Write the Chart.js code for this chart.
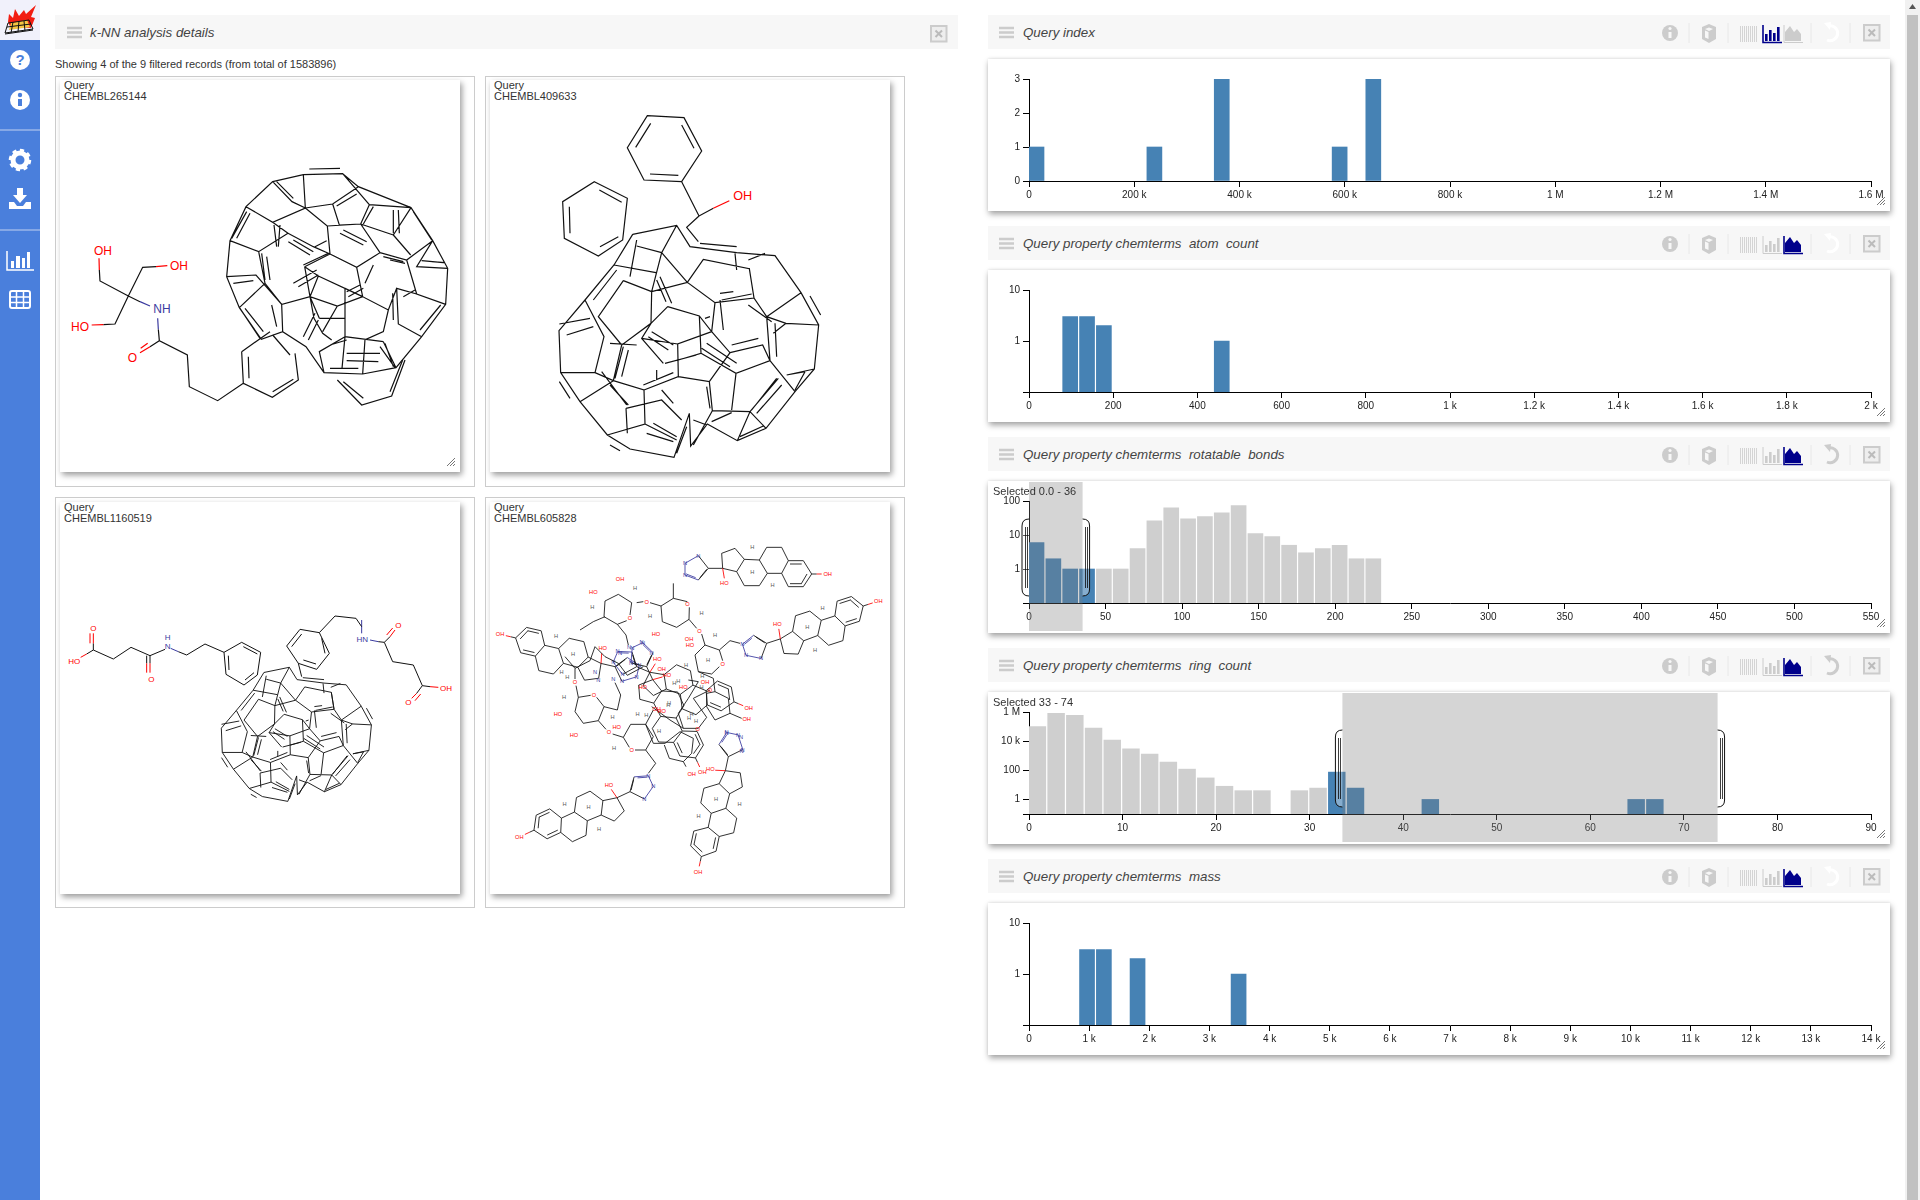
<!DOCTYPE html>
<html lang="en">
<head>
<meta charset="UTF-8" />
<title>k-NN analysis</title>
<script src="https://cdn.jsdelivr.net/npm/chart.js"></script>
<style>
  html, body { margin: 0; padding: 0; width: 1920px; height: 1200px; overflow: hidden; background: #fff; font-family: "Liberation Sans", Arial, sans-serif; color: #333; }
  .abs { position: absolute; }
  #sidebar { left: 0; top: 0; width: 40px; height: 1200px; background: #4a7fdc; }
  #logo { left: 0; top: 0; width: 40px; height: 40px; background: #f1f1fb; }
  .sep { left: 0; width: 40px; height: 2px; background: #86a8e6; }
  .head { background: #f7f7f7; height: 34px; }
  .title { font-style: italic; font-size: 13.33px; color: #444; white-space: pre; line-height: 34px; }
  .box { background: #fff; box-shadow: 1px 3px 6px rgba(0,0,0,.38), 0 -1px 2px rgba(0,0,0,.06); }
  .rec { border: 1px solid #ccc; box-sizing: border-box; width: 420px; height: 411px; }
  .paper { background: #fff; width: 400px; height: 392px; box-shadow: 2px 3px 6px rgba(0,0,0,.4); }
  .qlabel { font-size: 11px; line-height: 11px; color: #333; }
  .sel { font-size: 11px; color: #333; white-space: pre; }
  svg.mol { position: absolute; width: 430px; height: 420px; overflow: visible; }
  canvas { position: absolute; }
</style>
</head>
<body>
<div id="page"></div>
<script>
// histogram values
const indexBins = [0, 224000, 352000, 576000, 640000];
const indexCounts = [1, 1, 3, 1, 3];
const indexTicks = [0, 200000, 400000, 600000, 800000, 1000000, 1200000, 1400000, 1600000];
const indexTickLabels = ['0', '200 k', '400 k', '600 k', '800 k', '1 M', '1.2 M', '1.4 M', '1.6 M'];

const atomBins = [80, 120, 160, 440];
const atomCounts = [3, 3, 2, 1];
const atomTicks = [0, 200, 400, 600, 800, 1000, 1200, 1400, 1600, 1800, 2000];
const atomTickLabels = ['0', '200', '400', '600', '800', '1 k', '1.2 k', '1.4 k', '1.6 k', '1.8 k', '2 k'];

const rotBins = [0, 11, 22, 33, 44, 55, 66, 77, 88, 99, 110, 121, 132, 143, 154, 165, 176, 187, 198, 209, 220];
const rotCounts = [6, 2, 1, 1, 1, 1, 4, 26, 63, 30, 35, 45, 73, 11, 9, 5, 3, 4, 5, 2, 2];
const rotTicks = [0, 50, 100, 150, 200, 250, 300, 350, 400, 450, 500, 550];
const rotSelection = [0, 35];

const ringBins = [0, 2, 4, 6, 8, 10, 12, 14, 16, 18, 20, 22, 24, 28, 30, 32, 34, 42, 64, 66];
const ringCounts = [100000, 800000, 600000, 80000, 12000, 3000, 1300, 370, 120, 30, 8, 4, 4, 4, 6, 75, 6, 1, 1, 1];
const ringTicks = [0, 10, 20, 30, 40, 50, 60, 70, 80, 90];
const ringSelection = [33.5, 73.6];

const massBins = [840, 1120, 1680, 3360];
const massCounts = [3, 3, 2, 1];
const massTicks = [0, 1000, 2000, 3000, 4000, 5000, 6000, 7000, 8000, 9000, 10000, 11000, 12000, 13000, 14000];
const massTickLabels = ['0', '1 k', '2 k', '3 k', '4 k', '5 k', '6 k', '7 k', '8 k', '9 k', '10 k', '11 k', '12 k', '13 k', '14 k'];

const panelTitles = ['Query index', 'Query property chemterms  atom  count', 'Query property chemterms  rotatable  bonds', 'Query property chemterms  ring  count', 'Query property chemterms  mass'];
const recordIds = ['CHEMBL265144', 'CHEMBL409633', 'CHEMBL1160519', 'CHEMBL605828'];

const page = document.getElementById('page');
function add(html) { page.insertAdjacentHTML('beforeend', html); }
function place(cls, x, y, w, h, inner) {
  add(`<div class="abs ${cls}" style="left:${x}px;top:${y}px;${w ? 'width:' + w + 'px;' : ''}${h ? 'height:' + h + 'px;' : ''}">${inner || ''}</div>`);
}

// --- side bar
const WHITE = '#fff';
add(`<div class="abs" id="sidebar"></div><div class="abs" id="logo"></div><div class="abs sep" style="top:129px"></div><div class="abs sep" style="top:229px"></div>`);
add(`<svg class="abs" style="left:0;top:0" width="40" height="240" viewBox="0 0 40 240">
  <polygon points="8,22 9,14 13,18 15,9 19,16 24,10 26,14 36,5 31,17 35,18 31,28 10,26" fill="#f21d12"/>
  <polygon points="11,23 27,20 30,27 9,30" fill="#f5c542"/>
  <path d="M8,23 L29,20 M7,27 L31,24 M5,33 L33,29 M8,23 L5,33 M13,22 L11,33 M19,21 L18,32 M24,21 L25,31 M29,20 L33,29 M5,34 L33,30" stroke="#111" stroke-width="1" fill="none"/>
  <circle cx="20" cy="60" r="10" fill="${WHITE}"/><text x="20" y="65" font-size="15" font-weight="bold" text-anchor="middle" fill="#4a7fdc">?</text>
  <circle cx="20" cy="100" r="10" fill="${WHITE}"/><rect x="18" y="99" width="4" height="7" fill="#4a7fdc"/><circle cx="20" cy="95" r="2.2" fill="#4a7fdc"/>
  <circle cx="20" cy="160" r="7" fill="none" stroke="${WHITE}" stroke-width="5"/>
  <circle cx="20" cy="160" r="9.5" fill="none" stroke="${WHITE}" stroke-width="3.5" stroke-dasharray="4 3.4"/>
  <path d="M17,188 h6 v7 h4 l-7,8 l-7,-8 h4 z" fill="${WHITE}"/><path d="M9,202 h5 l3,4 h6 l3,-4 h5 v7 h-22 z" fill="${WHITE}"/>
</svg>`);
add(`<svg class="abs" style="left:0;top:240px" width="40" height="80" viewBox="0 240 40 80">
  <path d="M7,251 V270 H34" stroke="${WHITE}" stroke-width="1.5" fill="none"/>
  <rect x="11" y="261" width="3" height="7" fill="${WHITE}"/><rect x="16" y="256" width="4" height="12" fill="${WHITE}"/><rect x="22" y="258" width="3" height="10" fill="${WHITE}"/><rect x="27" y="252" width="3" height="16" fill="${WHITE}"/>
  <rect x="10" y="291" width="20" height="17" rx="2" fill="none" stroke="${WHITE}" stroke-width="2"/>
  <path d="M10,297 H30 M10,302.500 H30 M16.500,291 V308 M23.500,291 V308" stroke="${WHITE}" stroke-width="1.5"/>
</svg>`);

// --- header icons
function menuIcon(x, y) {
  return `<svg class="abs" style="left:${x}px;top:${y}px" width="16" height="14"><path d="M0,2 H15 M0,6.500 H15 M0,11 H15" stroke="#ccc" stroke-width="2.4"/></svg>`;
}
function closeIcon(x, y) {
  return `<svg class="abs" style="left:${x}px;top:${y}px" width="18" height="18"><rect x="1" y="1" width="15.500" height="15.500" fill="#eee" stroke="#ccc" stroke-width="2"/><path d="M5.500,5.500 L12,12 M12,5.500 L5.500,12" stroke="#bbb" stroke-width="2"/></svg>`;
}
function toolIcons(y, active, undoOn) {
  const on = '#00008b', off = '#ccc';
  const bc = active === 0 ? on : off, rc = active === 1 ? on : off;
  const sep = x => `<path d="M${x},8 V28" stroke="#e8e8e8"/>`;
  let bars = '';
  for (const [bx, bh] of [[3, 7], [7, 11], [11, 8], [15, 14]]) bars += `<rect x="${bx}" y="${26 - bh}" width="2.600" height="${bh}" fill="${bc}"/>`;
  let stripes = '';
  for (let i = 0; i < 9; i++) stripes += `<rect x="${i * 2}" y="11" width="1" height="16" fill="#d4d4d4"/>`;
  return `<svg class="abs" style="left:1655px;top:${y}px" width="225" height="34">
    <g><circle cx="15" cy="18" r="8" fill="#ccc"/><rect x="13.500" y="17" width="3" height="6" fill="#f7f7f7"/><circle cx="15" cy="13.500" r="1.600" fill="#f7f7f7"/></g>
    ${sep(34)}
    <g><path d="M47,12 L54,9 L61,12 V24 L54,28 L47,24 Z" fill="#ccc"/><path d="M50,14 L54,12.500 L58,14 L54,16 Z M50,15.500 L53.500,17 V24 L50,22.500 Z" fill="#f7f7f7"/></g>
    ${sep(73)}
    <g transform="translate(85,0)">${stripes}</g>
    <g transform="translate(107,0)">${bars}<path d="M1,10 V27.500 H20" fill="none" stroke="${bc}" stroke-width="${active === 0 ? 1.6 : 1}"/></g>
    <g transform="translate(128,0)"><path d="M2,26 L2,17 L7,11 L11,17 L14,14 L18,19 V26 Z" fill="${rc}"/><path d="M1,10 V27.500 H20" fill="none" stroke="${rc}" stroke-width="${active === 1 ? 1.6 : 1}"/></g>
    ${sep(156)}
    <path d="M173,11 A7.500,7.500 0 1,1 172,25" fill="none" stroke="${undoOn ? '#ccc' : '#fff'}" stroke-width="3"/><path d="M169,8 L176,7 L175,15 Z" fill="${undoOn ? '#ccc' : '#fff'}"/>
    ${sep(195)}
  </svg>` + closeIcon(1863, y + 9);
}

// --- left column
place('head', 55, 15, 903, 34);
add(menuIcon(67, 26));
place('title', 90, 16, 0, 34, 'k-NN analysis details');
add(closeIcon(930, 25));
place('', 55, 58, 600, 12, '<span style="position:relative;top:-4px;font-size:11px;color:#333">Showing 4 of the 9 filtered records (from total of 1583896)</span>');
[[55, 75.500], [485, 75.500], [55, 497], [485, 497]].forEach(([rx, ry], i) => {
  place('rec', rx, ry, 0, 0);
  place('paper', rx + 5, ry + 4.500, 0, 0);
  place('qlabel', rx + 9, ry + 4.500, 0, 0, 'Query<br>' + recordIds[i]);
});
const hatch = (x, y) => `<svg class="abs" style="left:${x}px;top:${y}px" width="9" height="9"><path d="M0,8 L8,0 M3,8 L8,3 M6,8 L8,6" stroke="#777"/></svg>`;
add(hatch(447, 458));

// --- molecule drawings (not data, just the pictures shown beside the charts)
const RED = '#f00', BLUE = '#3b3ba0', HGREY = '#555';
const cageA = `M668,335 L760,314 L878,311 L958,404 L1083,413 L1148,512 L1193,595 L1187,703 L1115,800 L1038,893 L938,912 L822,908 L768,830 L698,785 L634,808 L568,713 L530,620 L540,512 L588,410 Z
 M878,311 L925,350 L1083,413 M588,410 L668,457 L766,414 L760,314 M766,414 L848,402 L925,350 M668,335 L726,395 L766,414 M848,402 L868,465 L932,462 L958,404 M832,468 L932,462
 M766,414 L832,468 L840,552 L764,590 M668,457 L714,490 L626,545 L540,512 M626,545 L645,640 L695,703 M714,490 L790,530 L840,552 L920,592 L990,548 L932,462
 M990,548 L1070,570 L1148,512 M1030,495 L1083,413 M1030,495 L1082,555 M932,462 L1030,495 M1070,570 L1100,672 L1187,703 M1100,672 L1040,655 L1045,762 L1115,800 M1148,512 L1100,590 L1193,595
 M920,592 L938,680 L1015,720 L1040,655 M938,680 L862,708 L780,680 L695,703 L698,785 M645,640 L568,713 M530,620 L618,615 L695,703 M764,590 L805,618 L885,655 L885,745 L808,745 M805,618 L780,680 L808,745
 M764,590 L780,680 L792,745 L818,790 L845,810 M862,708 L818,785 M885,655 L938,680 M885,745 L885,800 L948,808 L1000,785 L1015,720 M885,800 L808,845 L822,908 M1000,815 L948,808 M1000,815 L1038,893 M945,808 L938,912 M885,800 L876,895
 M680,335 L730,385 M860,408 L920,372 M940,462 L970,410 M1030,420 L1030,490 M1045,420 L1048,490 M1090,425 L1145,510 M1145,575 L1185,578 M1115,572 L1180,578 M672,465 L680,530 M690,465 L685,530 M880,480 L950,515 M870,490 L940,525
 M795,530 L830,512 M730,510 L790,545 M715,515 L780,555 M760,585 L835,550 M635,550 L645,630 M650,560 L660,630 M545,505 L590,425 M560,505 L600,430 M550,640 L610,632 M1020,570 L1065,580 M1000,560 L1060,575
 M1110,780 L1172,705 M570,715 L630,805 M585,715 L640,785 M665,705 L680,770 M1028,670 L1030,750 M840,825 L890,810 M840,895 L925,895 M890,850 L990,850 M890,872 L985,875 M990,830 L1035,893 M1005,820 L1030,890
 M730,640 L800,600 M745,650 L805,615 M890,665 L930,645 M895,680 L940,655 M760,800 L795,730 M775,810 L805,750 M945,640 L970,585 M1060,680 L1095,660`;
const tailA = `M862,930 L935,1005 L1025,978 L1065,870 M880,935 L940,985 M1020,965 L1058,870
 M575,845 L660,785 M575,845 L580,940 L667,982 L745,930 L735,850 M595,860 L597,925 M668,965 L730,928 M668,795 L720,855 M580,940 L503,992 L418,950 L412,855 L328,812 L300,830
 M325,778 L328,812 M235,678 L270,695 M235,678 L150,633 L148,600 M235,678 L278,592 L318,590 M235,678 L195,762 L160,764`;
const tailARed = `M300,830 L270,848 M293,820 L272,835 M148,600 L147,565 M318,590 L352,587 M160,764 L125,765`;
const tailABlue = `M270,695 L300,708 M323,745 L325,778`;

const cageB = `M458,493 L590,466 L630,530 L770,548 L885,557 L963,668 L1016,765 L1003,897 L945,965 L858,1075 L772,1112 L682,1062 L632,1128 L628,1030 L582,1162 L450,1137 L382,1095 L300,995 L242,908 L237,782 L315,690 L402,585 L458,493
 M590,466 L545,548 L515,665 L622,637 L705,698 L822,684 L808,596 L670,568 L622,637 M545,548 L470,528 M545,548 L622,637 M402,585 L528,608 M430,632 L515,665 M430,632 L355,740 L425,825 M315,690 L372,800 L345,908 L242,908
 M515,665 L513,760 L425,825 L400,932 L345,908 M513,760 L485,805 L550,880 M485,805 L593,822 M563,710 L513,760 M563,710 L658,738 L695,785 L593,822 L595,920 L492,960 M658,738 L663,850 L595,870 M695,785 L750,848 L688,935 L595,920
 M705,698 L695,785 M750,848 L848,825 L870,872 L768,910 L663,850 M808,596 L822,684 L860,740 L918,760 L1016,765 M860,740 L963,668 M870,872 L860,740 M870,872 L945,965 M918,760 L880,790 M768,910 L755,1020 M688,935 L697,1022 L810,1025 L772,1112 M810,1025 L858,1075 M810,1025 L895,925 M1003,897 L920,915
 M400,932 L300,995 M400,932 L492,960 L495,1062 L382,1095 M438,1015 L545,990 L605,1050 M438,1015 L442,1090 M495,1062 L590,1110 M697,1022 L640,1125
 M990,678 L1022,735 M260,795 L340,770 M238,762 L330,745 M238,935 L270,985 M390,1125 L420,1142 M470,510 L450,620 M340,690 L410,600 M540,620 L575,700 M530,630 L558,695 M515,785 L580,825 M505,800 L565,840 M405,925 L430,830 M425,920 L445,840 M365,905 L440,1005 M390,945 L445,1005 M490,945 L580,908 M555,880 L650,855
 M680,820 L770,880 M665,835 L750,890 M755,825 L835,805 M805,705 L875,755 M720,690 L730,780 M725,690 L815,672 M885,760 L890,860 M815,1020 L890,925 M830,1030 L905,945 M920,915 L975,905 M945,960 L975,905 M520,1060 L590,1100 M500,1090 L580,1115 M680,950 L690,1015 M695,1055 L755,1028 M640,1050 L680,1065 M780,1100 L850,1068 M805,570 L855,550 M660,520 L770,530
 M620,1070 L590,1150 M580,1000 L545,960 M530,900 L530,930 M390,820 L470,825 M765,550 L770,600 M720,670 L760,665 M675,745 L690,740`;
const arcB = `M502,137 L612,143 L665,243 L605,335 L492,330 L442,233 Z M467,232 L512,160 M605,165 L642,235 M510,312 L595,316 M605,335 L657,438 L700,415 M657,438 L620,472 L655,515
 M343,335 L442,385 L428,510 L355,558 L253,505 L248,395 Z M358,360 L425,397 M270,490 L268,410 M360,530 L415,500`;

function polyPath(points) { return 'M' + points.map(p => p[0].toFixed(1) + ',' + p[1].toFixed(1)).join(' L'); }
const armLines = [
  [[240, -23], [285, -23], [310, 17], [285, 55], [240, 55], [220, 15], [240, -23]],
  [[240, -23], [220, -63], [175, -63], [153, -25], [177, 15], [220, 15]],
  [[153, -25], [108, -27], [85, 10], [108, 52], [153, 52], [177, 15]],
  [[108, -27], [80, -60], [40, -45], [43, 0], [85, 10]],
  [[43, 0], [0, 0], [-30, 35]], [[-30, -38], [0, 0]],
  [[245, -13], [280, -13]], [[296, 17], [279, 46]], [[245, 46], [280, 46]],
  [[310, 17], [325, 17]], [[-25, 28], [-5, 3]]
];
const armBlue = [[[-30, 35], [-70, 20], [-70, -15], [-30, -38]], [[-38, 28], [-64, 18]]];
const armRed = [[[325, 17], [340, 17]], [[43, 0], [48, 30]]];
const armLabels = [['OH', 358, 17, RED], ['HO', 48, 45, RED], ['H', 132, -63, HGREY], ['H', 132, 10, HGREY], ['H', 193, 50, HGREY], ['N', -70, 20, BLUE], ['N', -70, -15, BLUE], ['N', -30, -38, BLUE]];
// anchor x, anchor y, rotation, mirrored
const armPlacement = [[685, 235, 0, false], [860, 460, -18, true], [450, 905, 155, false], [745, 800, 102, false], [405, 530, 193, false], [470, 530, 23, true], [500, 530, 65, true]];

function armMarkup(ax, ay, deg, flip) {
  const c = Math.cos(deg * Math.PI / 180), s = Math.sin(deg * Math.PI / 180);
  const tf = ([x, y]) => { const yy = flip ? -y : y; return [ax + x * c - yy * s, ay + x * s + yy * c]; };
  const group = (lines, col) => `<path d="${lines.map(l => polyPath(l.map(tf))).join(' ')}" stroke="${col}"/>`;
  let out = group(armLines, '#111') + group(armBlue, BLUE) + group(armRed, RED);
  armLabels.forEach(([t, x, y, col]) => { const p = tf([x, y]); out += `<text x="${p[0].toFixed(0)}" y="${(p[1] + 6).toFixed(0)}" fill="${col}" stroke="none" text-anchor="middle">${t}</text>`; });
  return out;
}
const sugars = `M375,333 L415,313 L455,338 L450,375 M440,392 L412,403 L372,380 L375,333 M580,325 L622,335 M628,352 L627,388 L590,412 L547,395 L543,348 L580,325 M470,338 L490,335 M510,338 L543,348 M580,280 L580,325
 M675,465 L718,480 L728,512 M718,530 L695,552 L655,545 L645,495 L675,465 M627,388 L650,415 M665,432 L675,465 M718,480 L750,452 L780,460 M295,622 L332,616 M350,622 L372,650 L355,692 L310,700 L285,665 L295,622 M285,535 L285,567 M288,587 L295,622 M372,650 L412,660 L422,615 L405,578
 M430,742 L448,772 M465,780 L497,780 L520,740 L497,703 L452,703 L430,742 M355,692 L378,718 M398,732 L430,742 M497,780 L527,820 L505,850 M285,535 L330,512 L345,470 L375,500 L415,520 L442,556 L490,530 M412,403 L438,435 L445,465 M375,380 L340,395 L300,420 M255,500 L285,535
 M610,715 L655,715 L680,682 L640,625 L690,600 M570,690 L610,715 L595,670 L625,625 L655,575 L625,570 M520,660 L497,703 M515,650 L570,690 M497,703 L520,760 L555,760 L600,725 L640,745 L635,790 L610,815 L568,805 L553,765 M655,545 L700,565 L705,605 L745,625 L750,670 L705,690 L680,650 L680,610 L705,605 M610,815 L618,830 M750,670 L785,685`;
const sugarLabels = [['OH', 420, 268, RED], ['HO', 340, 306, RED], ['H', 465, 295, HGREY], ['O', 450, 385, RED], ['H', 337, 352, HGREY], ['O', 500, 335, RED], ['O', 622, 342, RED], ['HO', 528, 432, RED], ['H', 510, 378, HGREY], ['OH', 627, 447, RED], ['H', 665, 370, HGREY], ['O', 658, 423, RED], ['H', 705, 435, HGREY], ['O', 728, 522, RED], ['HO', 630, 465, RED], ['OH', 675, 577, RED], ['H', 252, 622, HGREY], ['O', 342, 615, RED], ['HO', 234, 672, RED], ['HO', 282, 735, RED], ['H', 398, 682, HGREY], ['O', 285, 577, RED], ['H', 245, 546, HGREY], ['O', 387, 725, RED], ['HO', 410, 711, RED], ['O', 455, 780, RED], ['H', 402, 775, HGREY], ['OH', 635, 852, RED], ['OH', 800, 687, RED], ['OH', 545, 537, RED], ['HO', 488, 592, RED], ['HO', 610, 592, RED], ['OH', 530, 658, RED], ['HO', 545, 662, RED], ['O', 653, 717, RED], ['O', 690, 600, RED], ['N', 447, 470, BLUE], ['N', 485, 456, BLUE], ['N', 515, 488, BLUE], ['N', 420, 488, BLUE], ['N', 355, 570, BLUE], ['N', 400, 568, BLUE], ['N', 345, 545, BLUE], ['N', 740, 730, BLUE], ['N', 783, 740, BLUE], ['N', 785, 783, BLUE], ['H', 618, 525, HGREY], ['H', 473, 672, HGREY], ['H', 583, 580, HGREY], ['H', 665, 592, HGREY], ['H', 635, 672, HGREY], ['H', 537, 722, HGREY], ['H', 648, 693, HGREY], ['H', 684, 510, HGREY]];

function textMark(t, x, y, col) { return `<text x="${x}" y="${y}" fill="${col}" stroke="none" text-anchor="middle" dominant-baseline="central">${t}</text>`; }
function molSvg(x, y, inner, fontSize, width) {
  add(`<svg class="mol" style="left:${x}px;top:${y}px" viewBox="0 0 1290 1260"><g fill="none" stroke="#111" stroke-width="${width}" font-family="Liberation Sans, Arial, sans-serif" font-size="${fontSize}">${inner}</g></svg>`);
}
molSvg(50, 70, `<path d="${cageA}"/><path d="M778,297 L870,295"/><path d="${tailA}"/><path d="${tailARed}" stroke="${RED}"/><path d="${tailABlue}" stroke="${BLUE}"/>`
  + textMark('OH', 159, 542, RED) + textMark('OH', 387, 587, RED) + textMark('NH', 336, 718, BLUE) + textMark('HO', 90, 770, RED) + textMark('O', 247, 865, RED), 36, 3.6);
molSvg(480, 70, `<path d="${cageB}"/><path d="${arcB}"/><path d="M700,415 L748,392" stroke="${RED}"/>` + textMark('OH', 788, 378, RED), 38, 3.6);
molSvg(50, 490, `<g transform="translate(377,262.500) scale(.578)" stroke-width="4.800"><path d="${cageB}"/></g>
  <path d="M522,487 L575,457 L632,487 L622,555 L582,585 L528,553 Z M535,497 L537,540 M580,470 L622,492 M585,570 L612,548 M522,487 L465,462 L410,495 L385,485 M345,478 L300,497 L243,472 L190,507 L130,480 L130,460 M300,497 L300,520 M290,497 L290,520 M130,480 L110,492"/>
  <path d="M385,485 L362,475 M935,390 L935,430 M960,450 L985,455" stroke="${BLUE}"/>
  <path d="M130,460 L130,430 M120,460 L120,430 M300,520 L300,548 M290,520 L290,548 M110,492 L92,502 M1140,590 L1165,592 M1100,610 L1085,625 M1112,612 L1095,632 M1020,440 L1035,420 M1010,435 L1028,414" stroke="${RED}"/>
  <path d="M750,418 L808,428 L838,490 L800,538 L745,520 L710,468 Z M755,432 L725,470 M815,445 L825,490 M760,510 L798,522 M808,428 L855,378 L918,385 L935,410 M985,455 L1003,457 L1028,515 L1090,525 L1117,587 L1140,590 M1117,587 L1100,610 M1003,457 L1020,440 M745,520 L755,560"/>`
  + textMark('H', 353, 441, BLUE) + textMark('N', 353, 468, BLUE) + textMark('O', 130, 414, RED) + textMark('HO', 73, 513, RED) + textMark('O', 304, 567, RED) + textMark('HN', 937, 447, BLUE) + textMark('O', 1045, 405, RED) + textMark('OH', 1188, 594, RED) + textMark('O', 1075, 636, RED), 24, 3);
molSvg(480, 490, armPlacement.map(a => armMarkup(...a)).join('') + `<path d="${sugars}" stroke-width="2.600"/>`
  + sugarLabels.map(l => textMark(l[0], l[1], l[2], l[3])).join(''), 17, 2.6);

// --- right column, one canvas per histogram
const panelTop = [15, 226, 437, 648, 859];
const activeView = [0, 1, 1, 1, 1];
const undoActive = [false, false, true, true, false];
panelTop.forEach((y, i) => {
  place('head', 988, y, 902, 34);
  add(menuIcon(999, y + 11));
  place('title', 1023, y + 1, 0, 34, panelTitles[i]);
  add(toolIcons(y, activeView[i], undoActive[i]));
  place('box', 988, y + 44, 902, 152);
  add(`<canvas id="chart${i}" width="902" height="152" style="left:988px;top:${y + 44}px;width:902px;height:152px"></canvas>`);
  add(hatch(1877, y + 182));
});
place('sel', 993, 485, 0, 0, 'Selected 0.0 - 36');
place('sel', 993, 696, 0, 0, 'Selected 33 - 74');

// scroll bar
add(`<div class="abs" style="left:1905px;top:0;width:15px;height:1200px;background:#f1f1f1"></div>
  <div class="abs" style="left:1907px;top:15px;width:11px;height:1185px;background:#c1c1c1"></div>
  <svg class="abs" style="left:1905px;top:0" width="15" height="14"><path d="M7.500,4 L11,9 H4 Z" fill="#555"/></svg>`);

const STEEL = '#4682b4', DESELECTED = '#cfcfcf';

// brush band and handles, placed through the x scale
const brushPlugin = {
  id: 'brush',
  afterDraw(chart, args, opts) {
    if (!opts.range) return;
    const { ctx, scales: { x }, chartArea: area } = chart;
    const x0 = x.getPixelForValue(opts.range[0]), x1 = x.getPixelForValue(opts.range[1]);
    const top = area.top - 19, bottom = area.bottom + 28;
    ctx.save();
    ctx.fillStyle = 'rgba(125,125,125,.32)';
    ctx.fillRect(x0, top, x1 - x0, bottom - top);
    const hTop = top + 37, hBot = hTop + 77;
    [[x0, -1], [x1, 1]].forEach(([hx, dir]) => {
      ctx.strokeStyle = '#111';
      ctx.lineWidth = 1;
      ctx.fillStyle = 'rgba(255,255,255,.35)';
      ctx.beginPath();
      ctx.moveTo(hx, hTop);
      ctx.quadraticCurveTo(hx + dir * 7, hTop, hx + dir * 7, hTop + 7);
      ctx.lineTo(hx + dir * 7, hBot - 7);
      ctx.quadraticCurveTo(hx + dir * 7, hBot, hx, hBot);
      ctx.fill();
      ctx.stroke();
      ctx.strokeStyle = 'rgba(0,0,0,.75)';
      ctx.beginPath();
      [2.5, 4.5].forEach(d => { ctx.moveTo(Math.round(hx + dir * d) + .5, hTop + 8); ctx.lineTo(Math.round(hx + dir * d) + .5, hBot - 8); });
      ctx.stroke();
    });
    ctx.restore();
  }
};

function histogram(id, o) {
  const centre = b => b + o.binWidth * (o.thickness / o.pitch) / 2;
  new Chart(document.getElementById(id), {
    type: 'bar',
    data: {
      datasets: [{
        data: o.bins.map((b, i) => ({ x: centre(b), y: o.counts[i] })),
        backgroundColor: o.bins.map(b => (!o.range || (b + o.binWidth > o.range[0] && b < o.range[1])) ? STEEL : DESELECTED),
        borderWidth: 0,
        barThickness: o.thickness
      }]
    },
    options: {
      responsive: false,
      animation: false,
      devicePixelRatio: 1,
      layout: { padding: { top: 20, right: 19, left: 0, bottom: 0 } },
      plugins: { legend: { display: false }, tooltip: { enabled: false }, brush: { range: o.range } },
      scales: {
        x: {
          type: 'linear', offset: false, min: 0, max: o.xTicks[o.xTicks.length - 1],
          afterBuildTicks: s => { s.ticks = o.xTicks.map(v => ({ value: v })); },
          afterFit: s => { s.height = 30; },
          grid: { display: true, drawOnChartArea: false, offset: false, tickLength: 6, tickColor: '#000', tickWidth: 1 },
          border: { color: '#000', width: 1 },
          ticks: { autoSkip: false, maxRotation: 0, padding: 2, color: '#222', font: { family: 'Liberation Sans', size: 10 }, callback: (v, i) => o.xLabels ? o.xLabels[i] : String(v) }
        },
        y: {
          type: o.log ? 'logarithmic' : 'linear', min: o.yMin, max: o.yTicks[o.yTicks.length - 1],
          afterBuildTicks: s => { s.ticks = o.yTicks.map(v => ({ value: v })); },
          afterFit: s => { s.width = 41; },
          grid: { display: true, drawOnChartArea: false, tickLength: 6, tickColor: '#000', tickWidth: 1 },
          border: { color: '#000', width: 1 },
          ticks: { autoSkip: false, padding: 3, color: '#222', font: { family: 'Liberation Sans', size: 10 }, callback: (v, i) => o.yLabels[i] }
        }
      }
    },
    plugins: [brushPlugin]
  });
}

histogram('chart0', { bins: indexBins, counts: indexCounts, binWidth: 32000, pitch: 16.8, thickness: 15, xTicks: indexTicks, xLabels: indexTickLabels, log: false, yMin: 0, yTicks: [0, 1, 2, 3], yLabels: ['0', '1', '2', '3'] });
histogram('chart1', { bins: atomBins, counts: atomCounts, binWidth: 40, pitch: 16.8, thickness: 15, xTicks: atomTicks, xLabels: atomTickLabels, log: true, yMin: 0.1, yTicks: [0.1, 1, 10], yLabels: ['', '1', '10'] });
histogram('chart2', { bins: rotBins, counts: rotCounts, binWidth: 11, pitch: 16.8, thickness: 15, xTicks: rotTicks, log: true, yMin: 0.1, yTicks: [0.1, 1, 10, 100], yLabels: ['', '1', '10', '100'], range: rotSelection });
histogram('chart3', { bins: ringBins, counts: ringCounts, binWidth: 2, pitch: 18.7, thickness: 16.8, xTicks: ringTicks, log: true, yMin: 0.1, yTicks: [0.1, 1, 100, 10000, 1000000], yLabels: ['', '1', '100', '10 k', '1 M'], range: ringSelection });
histogram('chart4', { bins: massBins, counts: massCounts, binWidth: 280, pitch: 16.8, thickness: 15, xTicks: massTicks, xLabels: massTickLabels, log: true, yMin: 0.1, yTicks: [0.1, 1, 10], yLabels: ['', '1', '10'] });
</script>
</body>
</html>
